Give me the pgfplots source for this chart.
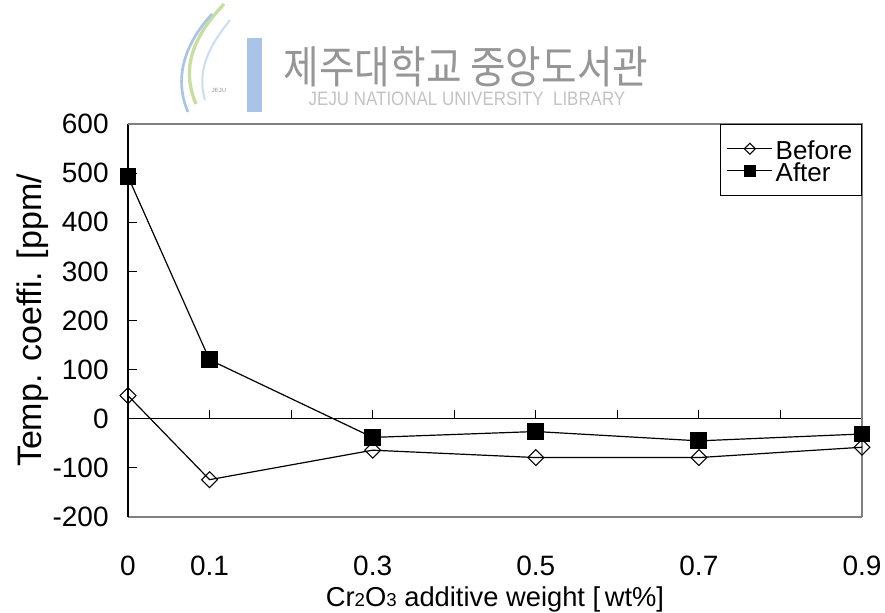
\documentclass[border=0pt]{standalone}
\usepackage{pgfplots}
\pgfplotsset{compat=1.18}
\usepackage{fontspec}
\setmainfont{Liberation Sans}
\newfontfamily\cjk{Noto Sans CJK KR}
\definecolor{wmgray}{RGB}{150,150,150}
\definecolor{wmlight}{RGB}{195,195,195}
\definecolor{wmblue}{RGB}{170,196,232}
\definecolor{wmgreen}{RGB}{200,222,160}
\definecolor{framegray}{RGB}{128,128,128}

\pgfplotstableread{
x y
0 47
0.1 -124
0.3 -64
0.5 -79
0.7 -79
0.9 -58
}\before
\pgfplotstableread{
x y
0 493
0.1 120
0.3 -38
0.5 -26
0.7 -45
0.9 -31
}\after

\begin{document}
\begin{tikzpicture}
\useasboundingbox (0,0) rectangle (663.75pt,459.75pt);
% watermark (pixel coordinates)
\begin{scope}[x=0.75pt,y=-0.75pt,shift={(0,459.75pt)}]
  \fill[wmblue] (247,38) rectangle (262,112);
  \draw[wmgreen,line width=2.5pt] (224,4) .. controls (200,30) and (178,62) .. (196,104);
  \draw[wmblue,line width=2pt] (212,14) .. controls (188,40) and (172,75) .. (188,112);
  \draw[wmblue!60,line width=1.5pt] (230,20) .. controls (210,45) and (196,70) .. (205,100);
  \node[text=wmgray,font=\fontsize{4.5}{5}\selectfont] at (219,90) {JEJU};
  \node[text=wmgray,font=\cjk\fontsize{29}{30}\selectfont,yscale=1.15,inner sep=0pt] at (466,67) {제주대학교 중앙도서관};
  \node[text=wmlight,font=\fontsize{14.6}{15}\selectfont,xscale=0.87,inner sep=0pt] at (467,99) {JEJU NATIONAL UNIVERSITY\ \ LIBRARY};
\end{scope}

% zero line with upward ticks
\begin{axis}[
  at={(96pt,145.6875pt)}, anchor=south west, scale only axis,
  width=550.5pt, height=221.0625pt,
  xmin=0, xmax=0.9, ymin=0, ymax=600,
  axis x line*=bottom, axis y line=none,
  axis line style={-, black, line width=0.8pt},
  xtick={0,0.1,0.2,0.3,0.4,0.5,0.6,0.7,0.8,0.9},
  xticklabels={},
  tick align=inside, major tick length=6.75pt,
  tick style={black, line width=0.8pt},
]
\end{axis}

\begin{axis}[
  at={(96pt,72pt)}, anchor=south west, scale only axis,
  width=550.5pt, height=294.75pt,
  xmin=0, xmax=0.9, ymin=-200, ymax=600,
  clip=false,
  axis x line*=bottom, axis y line*=left,
  x axis line style={-, draw=framegray, line width=0.8pt},
  y axis line style={-, draw=black, line width=0.8pt},
  xtick={0,0.1,0.3,0.5,0.7,0.9},
  xticklabels={0,0.1,0.3,0.5,0.7,0.9},
  major x tick style={draw=none},
  ytick={-200,-100,0,100,200,300,400,500,600},
  yticklabels={-200,-100,0,100,200,300,400,500,600},
  tick align=inside, major tick length=6.75pt,
  y tick style={black, line width=0.8pt},
  tick label style={font=\fontsize{21}{21}\selectfont},
  xticklabel style={yshift=-26pt},
  yticklabel style={xshift=-11pt},
  xlabel={Cr{\fontsize{14}{14}\selectfont 2}O{\fontsize{14}{14}\selectfont 3} additive weight [\,wt\%]},
  every axis x label/.style={at={(axis description cs:0.5,0)}, anchor=base, yshift=-67.5pt, font=\fontsize{20.5}{21}\selectfont},
  ylabel={Temp. coeffi. [ppm/},
  every axis y label/.style={at={(axis description cs:-0.1172,0.5)}, rotate=90, anchor=base, font=\fontsize{25.5}{26}\selectfont},
  legend cell align=left,
  legend style={at={(1,1)}, anchor=north east, draw=black, line width=0.6pt, fill=white,
    font=\fontsize{19.5}{19.5}\selectfont, inner xsep=5pt, inner ysep=10pt,
    nodes={inner ysep=0.5pt, text height=15.5pt, text depth=0pt}},
  legend image code/.code={\draw[mark repeat=2,mark phase=2,#1] plot coordinates {(0pt,0pt) (16.9pt,0pt) (33.75pt,0pt)};},
  legend image post style={every mark/.append style={scale=0.7}},
]
\draw[framegray, line width=0.8pt] (rel axis cs:0,1) -- (rel axis cs:1,1) -- (rel axis cs:1,0);
\addplot[black, line width=0.9pt, mark=square, mark size=4.2pt, mark options={rotate=45, fill=white, solid, line width=0.8pt}] table[x=x,y=y] {\before};
\addlegendentry{Before}
\addplot[black, line width=0.9pt, mark=square*, mark size=5.9pt, mark options={fill=black, solid}] table[x=x,y=y] {\after};
\addlegendentry{After}
\end{axis}
\end{tikzpicture}
\end{document}
